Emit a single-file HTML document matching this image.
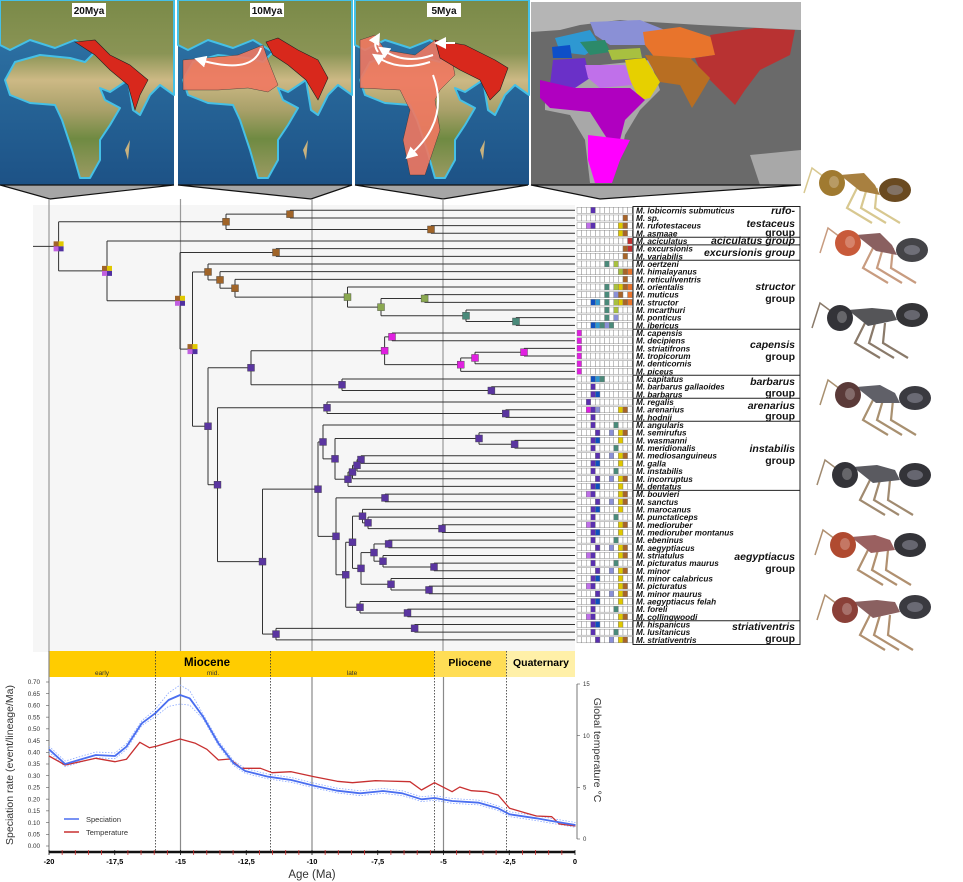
<!DOCTYPE html>
<html><head><meta charset="utf-8"><style>
html,body{margin:0;padding:0;background:#fff;}
svg{display:block;font-family:"Liberation Sans",sans-serif;}
</style></head><body>
<svg id="s" width="963" height="882" viewBox="0 0 963 882" xmlns="http://www.w3.org/2000/svg">
<defs>
<linearGradient id="land" x1="0" y1="0" x2="0" y2="1">
<stop offset="0" stop-color="#7a8a48"/><stop offset="0.3" stop-color="#8a9455"/>
<stop offset="0.45" stop-color="#cdb985"/><stop offset="0.62" stop-color="#a8a069"/>
<stop offset="0.78" stop-color="#6f8a42"/><stop offset="1" stop-color="#9a9a62"/>
</linearGradient>
<linearGradient id="sea" x1="0" y1="0" x2="0" y2="1">
<stop offset="0" stop-color="#3078aa"/><stop offset="1" stop-color="#1d5286"/>
</linearGradient>
<marker id="ah" markerWidth="6" markerHeight="6" refX="3" refY="3" orient="auto"><path d="M0,0 L6,3 L0,6 Z" fill="#fff"/></marker>
</defs>
<g id="maps"></g>
<rect x="33" y="205" width="542" height="447" fill="#f6f6f6"/>
<g id="tree"></g>
<g id="chart"></g>
<g id="ants"></g>
</svg>
<script>
const NS="http://www.w3.org/2000/svg";
function el(parent,tag,attrs,text){const e=document.createElementNS(NS,tag);for(const k in attrs)e.setAttribute(k,attrs[k]);if(text!==undefined)e.textContent=text;parent.appendChild(e);return e;}
const maps=document.getElementById('maps');
const landPath="M0,0 L174,0 L174,95 L160,85 L150,95 L140,115 L133,110 L128,80 L110,92 L100,88 L105,100 L120,108 L110,125 L100,140 L100,160 L90,178 L80,178 L72,150 L62,120 L55,105 L30,103 L10,95 L5,80 L15,62 L40,55 L70,58 L85,62 L95,52 L75,40 L55,48 L30,40 L10,50 L0,45 Z";
const panels=[[0,"20Mya"],[178,"10Mya"],[355,"5Mya"]];
panels.forEach(([ox,lab],i)=>{
 const g=el(maps,'g',{transform:`translate(${ox},0)`});
 el(g,'rect',{x:0,y:0,width:174,height:185,fill:'url(#sea)'});
 el(g,'path',{d:landPath,fill:'url(#land)',stroke:'#45c0e6','stroke-width':2,'stroke-linejoin':'round'});
 el(g,'path',{d:"M125,150 L130,140 L128,160 Z",fill:'#c9b27e'});
 if(i==0){el(g,'polygon',{points:"75,42 95,40 110,55 130,65 148,80 140,95 135,110 128,85 110,70 95,55",fill:'#d8281c',stroke:'#222','stroke-width':0.6});}
 if(i==1){
  el(g,'polygon',{points:"5,60 60,55 85,45 90,60 100,85 90,92 70,88 40,90 5,90",fill:'#f07860','fill-opacity':0.9,stroke:'#333','stroke-width':0.4});
  el(g,'polygon',{points:"88,42 100,38 120,50 140,60 150,78 140,100 128,80 110,65 95,55",fill:'#d8281c',stroke:'#222','stroke-width':0.6});
  el(g,'path',{d:"M83,48 Q75,75 22,60",stroke:'#fff','stroke-width':2,fill:'none','marker-end':'url(#ah)'});
 }
 if(i==2){
  el(g,'polygon',{points:"5,40 20,35 30,50 60,55 80,40 95,50 100,75 85,90 80,100 85,130 70,175 55,175 48,140 55,110 45,90 5,88",fill:'#f07860','fill-opacity':0.9,stroke:'#333','stroke-width':0.4});
  el(g,'polygon',{points:"80,40 110,45 140,60 153,68 145,90 135,100 125,80 105,70 85,58",fill:'#d8281c',stroke:'#222','stroke-width':0.6});
  el(g,'path',{d:"M78,55 Q50,65 28,50",stroke:'#fff','stroke-width':2,fill:'none','marker-end':'url(#ah)'});
  el(g,'path',{d:"M75,62 Q45,72 22,57",stroke:'#fff','stroke-width':2,fill:'none','marker-end':'url(#ah)'});
  el(g,'path',{d:"M23,52 Q18,45 22,38",stroke:'#fff','stroke-width':2,fill:'none','marker-end':'url(#ah)'});
  el(g,'path',{d:"M100,43 L85,43",stroke:'#fff','stroke-width':2,fill:'none','marker-end':'url(#ah)'});
  el(g,'path',{d:"M78,75 Q95,120 55,155",stroke:'#fff','stroke-width':2,fill:'none','marker-end':'url(#ah)'});
 }
 el(g,'rect',{x:72,y:3,width:34,height:14,fill:'#fff'});
 el(g,'text',{x:89,y:14,'text-anchor':'middle','font-size':10,'font-weight':'bold',fill:'#111'},lab);
});
(function(){
 const g=el(maps,'g',{});
 el(g,'rect',{x:531,y:2,width:270,height:183,fill:'#6a6a6a'});
 el(g,'polygon',{points:"531,2 801,2 801,30 760,28 700,25 620,20 580,25 560,30 531,32",fill:'#b5b5b5'});
 el(g,'polygon',{points:"545,85 600,65 650,60 660,90 640,110 625,135 620,160 610,183 590,183 585,140 570,115 545,110",fill:'#a8a8a8'});
 el(g,'polygon',{points:"750,155 801,150 801,185 760,185",fill:'#a8a8a8'});
 el(g,'polygon',{points:"555,38 590,30 600,45 585,55 560,52",fill:'#2e98d2'});
 el(g,'polygon',{points:"552,47 570,45 572,58 553,58",fill:'#0d4fc8'});
 el(g,'polygon',{points:"590,22 640,20 665,30 650,45 610,45 595,35",fill:'#8a90d6'});
 el(g,'polygon',{points:"580,42 605,40 610,52 590,55",fill:'#2c8a6a'});
 el(g,'polygon',{points:"643,32 680,27 720,40 715,55 680,60 655,58 645,45",fill:'#e8742c'});
 el(g,'polygon',{points:"710,35 755,28 795,30 790,55 760,70 745,90 735,105 720,90 700,70 695,58 715,55",fill:'#b83232'});
 el(g,'polygon',{points:"608,50 640,48 642,58 612,60",fill:'#a8c040'});
 el(g,'polygon',{points:"625,60 645,58 660,82 650,98 640,100 630,80",fill:'#e6d000'});
 el(g,'polygon',{points:"645,55 690,58 710,78 700,95 692,108 680,85 660,82",fill:'#b86e22'});
 el(g,'polygon',{points:"553,60 585,58 590,78 575,88 550,85",fill:'#6a30c8'});
 el(g,'polygon',{points:"585,65 625,65 632,85 600,88 588,78",fill:'#c070ea'});
 el(g,'polygon',{points:"540,80 575,88 630,88 645,100 625,120 620,140 608,140 590,112 550,108 540,98",fill:'#b000c0'});
 el(g,'polygon',{points:"588,135 630,140 620,160 612,183 595,183 588,160",fill:'#ff00ff'});
})();
[[0,174,50],[178,352,311],[355,528,443],[531,801,600]].forEach(([a,b,t])=>{
 el(maps,'polygon',{points:`${a},185 ${b},185 ${t},199`,fill:'#a6a6a6',stroke:'#111','stroke-width':1.2});
});
const tree=document.getElementById('tree');
[49,180.5,312,443].forEach(x=>el(tree,'line',{x1:x,y1:199,x2:x,y2:652,stroke:'#9a9a9a','stroke-width':1.2}));
const names=["lobicornis submuticus","sp.","rufotestaceus","asmaae","aciculatus","excursionis","variabilis","oertzeni","himalayanus","reticuliventris","orientalis","muticus","structor","mcarthuri","ponticus","ibericus","capensis","decipiens","striatifrons","tropicorum","denticornis","piceus","capitatus","barbarus gallaoides","barbarus","regalis","arenarius","hodnii","angularis","semirufus","wasmanni","meridionalis","mediosanguineus","galla","instabilis","incorruptus","dentatus","bouvieri","sanctus","marocanus","punctaticeps","medioruber","medioruber montanus","ebeninus","aegyptiacus","striatulus","picturatus maurus","minor","minor calabricus","picturatus","minor maurus","aegyptiacus felah","foreli","collingwoodi","hispanicus","lusitanicus","striativentris"];
const ry=i=>210.3+7.67*i;
const A=[226,[290,0,1],[431,2,3]];
const E=[208,7,[220,8,[235,9,[347.5,10,[381,[424.6,11,12],[466,13,[516,14,15]]]]]]];
const G=[251,[384.6,[392,16,17],[460.7,[475,[524,18,19],20],21]],[342,22,[491.4,23,24]]];
const INS=[323,28,[335,[479,29,[514.6,30,31]],[348,[352.5,[357,[361,32,33],34],35],36]]];
const AEG=[336,[385,37,38],[345.7,[352.5,[362.5,39,[368,40,[442,41,42]]],[361,[374,[388.6,43,44],[383,45,[434,46,47]]],[391,48,[429,49,50]]]],[360,51,[407.5,52,53]]]];
const J=[318,INS,AEG],K=[276,[414.6,54,55],56],I=[262.5,J,K];
const H=[217.5,[327,25,[505.7,26,27]],I],F=[208,G,H],D=[192.5,E,F],C=[180,[276,5,6],D],B=[107,4,C];
const ROOT=[58.6,A,B];
const nodes=[];
function minLeaf(n){return typeof n==='number'?n:Math.min(...n.slice(1).map(minLeaf));}
function draw(n){
 if(typeof n==='number')return{x:575,y:ry(n)};
 const ch=n.slice(1).map(draw);const x=n[0];
 const ys=ch.map(c=>c.y);const y=(Math.min(...ys)+Math.max(...ys))/2;
 el(tree,'line',{x1:x,y1:Math.min(...ys),x2:x,y2:Math.max(...ys),stroke:'#333','stroke-width':1});
 ch.forEach(c=>el(tree,'line',{x1:x,y1:c.y,x2:c.x,y2:c.y,stroke:'#333','stroke-width':1}));
 nodes.push({x,y,m:minLeaf(n),big:x<200});
 return{x,y};
}
const r=draw(ROOT);
el(tree,'line',{x1:33,y1:r.y,x2:58.6,y2:r.y,stroke:'#333','stroke-width':1});
nodes.forEach(nd=>{
 let c='#5a35a0';
 if(nd.m<=15)c='#a06428';
 if(nd.m>=10&&nd.m<=15&&nd.x>340)c='#8aa850';
 if(nd.m>=13&&nd.m<=15&&nd.x>460)c='#4a8a7a';
 if(nd.m>=16&&nd.m<=21&&nd.x>370)c='#e020e0';
 if(nd.big){
  el(tree,'rect',{x:nd.x-5,y:nd.y-5,width:5,height:5,fill:'#a06428'});
  el(tree,'rect',{x:nd.x,y:nd.y-5,width:5,height:5,fill:'#e0c800'});
  el(tree,'rect',{x:nd.x-5,y:nd.y,width:5,height:5,fill:'#c060e0'});
  el(tree,'rect',{x:nd.x,y:nd.y,width:5,height:5,fill:'#5030a0'});
 } else el(tree,'rect',{x:nd.x-3.5,y:nd.y-3.5,width:7,height:7,fill:c,stroke:'#444','stroke-width':0.4});
});
const pal={P:'#5a30b0',M:'#e020e0',B:'#a86428',Y:'#e0c800',G:'#4a8a7a',O:'#e8742c',R:'#c03030',L:'#a8c040',U:'#1050c0',C:'#2e98d2',V:'#c070ea',K:'#8a90d6'};
const pats=["...P........","..........B.","..VP.....YB.",".........YB.","...........R","..........BR","..........B.",
"......G.L...",".........LBO","..........B.","......G.LYBO","......G.KB.O","...UC.G.LYBO","......G.L...","......G.K...","...UCGKG....",
"M...........","M...........","M...........","M...........","M...........","M...........",
"...UCG......","...P........","...PU.......","..P.........","..MPK....YB.","...P........"];
for(let i=0;i<57;i++){
 const y=ry(i);let p=pats[i]||(i%3==0?"...PU....Y..":(i%3==1?"...P....G...":"....P..K.YB."));
 if(i>=37&&i<=53&&i%4==1)p="..VP.....YB.";
 for(let k=0;k<12;k++){
  const ch=p[k];el(tree,'rect',{x:577+k*4.6,y:y-3,width:4.6,height:6,fill:ch&&ch!=='.'?pal[ch]:'#fff',stroke:'#777','stroke-width':0.4});
 }
 el(tree,'text',{x:636,y:y+3,'font-size':8.2,'font-style':'italic','font-weight':'bold',fill:'#111'},"M. "+names[i]);
}
el(tree,'rect',{x:633,y:206.5,width:167,height:438,fill:'none',stroke:'#222','stroke-width':1});
[3,4,6,15,21,24,27,36,53].forEach(i=>{const y=ry(i)+3.9;el(tree,'line',{x1:633,y1:y,x2:800,y2:y,stroke:'#222','stroke-width':1});});
const gl=[["rufo-",214,1],["testaceus",227,1],["group",236,0],["aciculatus group",244,1],["excursionis group",256,1],["structor",290,1],["group",302,0],["capensis",348,1],["group",360,0],["barbarus",385,1],["group",396.5,0],["arenarius",409,1],["group",419.5,0],["instabilis",452,1],["group",464,0],["aegyptiacus",560,1],["group",572,0],["striativentris",630,1],["group",642,0]];
gl.forEach(([t,y,it])=>el(tree,'text',{x:795,y:y,'text-anchor':'end','font-size':10.5,'font-weight':'bold','font-style':it?'italic':'normal',fill:'#111'},t));
const ch=document.getElementById('chart');
const X=t=>49+(20+t)*26.3;
el(ch,'rect',{x:49,y:651,width:385,height:26,fill:'#ffcc00'});
el(ch,'rect',{x:434,y:651,width:72,height:26,fill:'#ffdd55'});
el(ch,'rect',{x:506,y:651,width:69,height:26,fill:'#fff0a8'});
el(ch,'text',{x:207,y:666,'text-anchor':'middle','font-size':11.5,'font-weight':'bold'},"Miocene");
el(ch,'text',{x:470,y:666,'text-anchor':'middle','font-size':10.5,'font-weight':'bold'},"Pliocene");
el(ch,'text',{x:541,y:666,'text-anchor':'middle','font-size':10.5,'font-weight':'bold'},"Quaternary");
[["early",102],["mid.",213],["late",352]].forEach(([t,x])=>el(ch,'text',{x:x,y:675,'text-anchor':'middle','font-size':6.5,fill:'#333'},t));
[155.5,270.5,434.5,506.5].forEach(x=>el(ch,'line',{x1:x,y1:651,x2:x,y2:852,stroke:'#333','stroke-width':0.8,'stroke-dasharray':'1.5,1.5'}));
[X(-15),X(-10),X(-5)].forEach(x=>el(ch,'line',{x1:x,y1:677,x2:x,y2:852,stroke:'#8a8a8a','stroke-width':1.2}));
el(ch,'line',{x1:49,y1:651,x2:49,y2:852,stroke:'#8a8a8a','stroke-width':1.2});
const Y=v=>846-v/0.7*164;
for(let k=0;k<=14;k++){const v=k*0.05;el(ch,'line',{x1:46,y1:Y(v),x2:49,y2:Y(v),stroke:'#555','stroke-width':0.6});
 el(ch,'text',{x:40,y:Y(v)+2.2,'text-anchor':'end','font-size':6.3,fill:'#333'},v.toFixed(2));}
el(ch,'text',{x:0,y:0,transform:'translate(13,765) rotate(-90)','text-anchor':'middle','font-size':10.5,fill:'#333'},"Speciation rate (event/lineage/Ma)");
const YT=t=>839-t/15*155;
el(ch,'line',{x1:577,y1:684,x2:577,y2:839,stroke:'#555','stroke-width':0.8});
[0,5,10,15].forEach(t=>{el(ch,'line',{x1:577,y1:YT(t),x2:580,y2:YT(t),stroke:'#555','stroke-width':0.6});
 el(ch,'text',{x:583,y:YT(t)+2.2,'font-size':6,fill:'#333'},t);});
el(ch,'text',{x:0,y:0,transform:'translate(594,750) rotate(90)','text-anchor':'middle','font-size':10.5,fill:'#333'},"Global temperature °C");
el(ch,'line',{x1:49,y1:852,x2:575,y2:852,stroke:'#111','stroke-width':2.5});
for(let t=-20;t<=0;t+=0.5){el(ch,'line',{x1:X(t),y1:850,x2:X(t),y2:855,stroke:(t%2.5==0)?'#111':'#d03030','stroke-width':0.8});}
["-20","-17,5","-15","-12,5","-10","-7,5","-5","-2,5","0"].forEach((l,k)=>el(ch,'text',{x:X(-20+k*2.5),y:864,'text-anchor':'middle','font-size':7.5,'font-weight':'bold'},l));
el(ch,'text',{x:312,y:878,'text-anchor':'middle','font-size':11.5,fill:'#333'},"Age (Ma)");
const sp=[[128,328],[170,372],[250,345],[300,348],[330,320],[370,250],[405,220],[440,180],[470,165],[495,175],[530,230],[570,310],[610,370],[640,393],[700,410],[760,420],[820,437],[880,452],[940,460],[1000,453],[1050,460],[1100,478],[1134,474],[1180,483],[1250,488],[1300,505],[1330,523],[1400,535],[1440,543],[1502,555]];
const tp=[[128,348],[170,375],[250,355],[300,365],[330,358],[365,307],[390,323],[410,318],[470,297],[510,310],[540,328],[570,360],[600,357],[630,385],[680,385],[710,398],[760,395],[820,410],[880,424],[920,428],[980,422],[1070,425],[1100,450],[1134,428],[1180,455],[1200,441],[1230,452],[1270,455],[1300,465],[1330,505],[1370,518],[1400,528],[1440,530],[1460,552],[1502,558]];
const conv=(p,dy)=>p.map(([a,b])=>`${(a/2.61).toFixed(1)},${(640+b/3+dy(a)).toFixed(1)}`).join(' ');
const band=a=>{const x=a/2.61; if(x<130)return 3; return Math.max(2.5,(x>150&&x<200)?10*(1-Math.abs(x-180)/40):2.5);};
el(ch,'polyline',{points:conv(sp,a=>-band(a)),fill:'none',stroke:'#8aa8ff','stroke-width':0.8,'stroke-dasharray':'1.5,1.5'});
el(ch,'polyline',{points:conv(sp,a=>band(a)*0.9),fill:'none',stroke:'#8aa8ff','stroke-width':0.8,'stroke-dasharray':'1.5,1.5'});
el(ch,'polyline',{points:conv(tp,a=>0),fill:'none',stroke:'#c83030','stroke-width':1.3,'stroke-linejoin':'round'});
el(ch,'polyline',{points:conv(sp,a=>0),fill:'none',stroke:'#4a6ef0','stroke-width':1.8,'stroke-linejoin':'round'});
el(ch,'line',{x1:64,y1:819,x2:79,y2:819,stroke:'#4a6ef0','stroke-width':1.5});
el(ch,'line',{x1:64,y1:832,x2:79,y2:832,stroke:'#c83030','stroke-width':1.5});
el(ch,'text',{x:86,y:822,'font-size':7.5,fill:'#333'},"Speciation");
el(ch,'text',{x:86,y:835,'font-size':7.5,fill:'#333'},"Temperature");
const ants=document.getElementById('ants');
function ant(hx,hy,gx,gy,hc,tc,gc,lc){
 const g=el(ants,'g',{});
 for(let k=0;k<3;k++){el(g,'polyline',{points:`${hx+25+k*10},${hy+5} ${hx+15+k*14},${hy+25} ${hx+40+k*14},${hy+40}`,fill:'none',stroke:lc,'stroke-width':2.2});}
 el(g,'polyline',{points:`${hx-8},${hy-6} ${hx-20},${hy-15} ${hx-28},${hy+10}`,fill:'none',stroke:lc,'stroke-width':1.5});
 el(g,'path',{d:`M${hx+8},${hy-8} L${hx+32},${hy-10} L${gx-20},${gy-5} L${gx-15},${gy+5} L${hx+28},${hy+8} Z`,fill:tc});
 el(g,'ellipse',{cx:gx,cy:gy,rx:16,ry:12,fill:gc});
 el(g,'ellipse',{cx:gx,cy:gy,rx:8,ry:5,fill:'#9a9aa8','fill-opacity':0.5});
 el(g,'ellipse',{cx:hx,cy:hy,rx:13,ry:13,fill:hc});
 el(g,'ellipse',{cx:hx+2,cy:hy-1,rx:5,ry:6,fill:'#ffffff','fill-opacity':0.25});
}
ant(832,183,895,190,'#a07a30','#a88040','#6a4a20','#d8c890');
ant(848,243,912,250,'#c85a3a','#8a6060','#444448','#c89c80');
ant(840,318,912,315,'#333338','#555558','#333336','#8a7a6a');
ant(848,395,915,398,'#5a3a38','#606068','#3a3a40','#a89070');
ant(845,475,915,475,'#333338','#5a5a60','#333338','#a08a70');
ant(843,545,910,545,'#b04a30','#9a6060','#333338','#b09070');
ant(845,610,915,607,'#8a4038','#8a6060','#3a3a40','#b09070');
</script>
</body></html>
